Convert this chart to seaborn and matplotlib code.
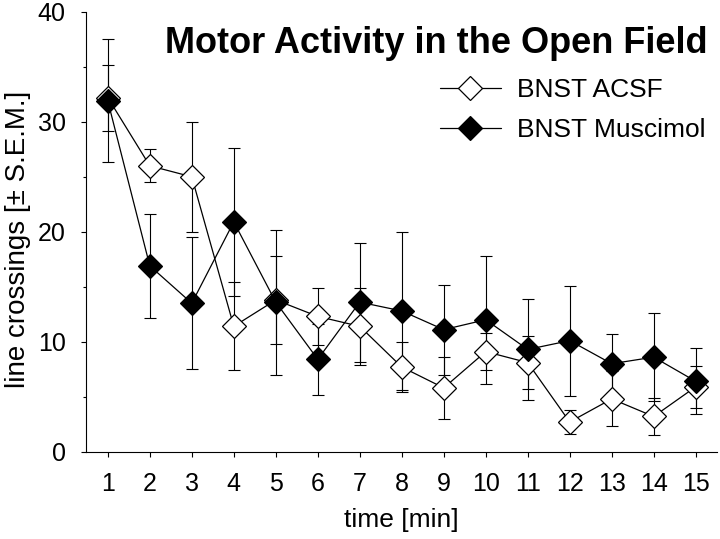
import pandas as pd
import matplotlib.pyplot as plt
import seaborn as sns
from matplotlib.ticker import MultipleLocator

# Line crossings per minute in the open field (mean +/- SEM)
minutes = list(range(1, 16))
acsf_mean = [32.2, 26.0, 25.0, 11.4, 13.8, 12.3, 11.4, 7.7, 5.8, 9.1, 8.1, 2.7, 4.8, 3.2, 5.9]
acsf_sem = [3.0, 1.5, 5.0, 4.0, 4.0, 2.6, 3.5, 2.3, 2.8, 1.7, 2.4, 1.05, 2.5, 1.7, 1.9]
musc_mean = [31.9, 16.9, 13.5, 20.9, 13.6, 8.4, 13.6, 12.8, 11.1, 12.0, 9.3, 10.1, 8.0, 8.6, 6.4]
musc_sem = [5.6, 4.7, 6.0, 6.7, 6.6, 3.2, 5.4, 7.2, 4.1, 5.8, 4.6, 5.0, 2.7, 4.0, 3.0]

df = pd.DataFrame({
    'time': minutes * 2,
    'crossings': acsf_mean + musc_mean,
    'sem': acsf_sem + musc_sem,
    'group': ['BNST ACSF'] * 15 + ['BNST Muscimol'] * 15,
})

sns.set_style("ticks")
plt.rcParams['font.family'] = ['Liberation Sans', 'DejaVu Sans']
plt.rcParams.update({'text.color': 'black', 'axes.labelcolor': 'black',
                     'xtick.color': 'black', 'ytick.color': 'black'})

fig = plt.figure(figsize=(7.2, 5.39), dpi=100)
ax = fig.add_axes([0.1194, 0.162, 0.876, 0.816])

fills = {'BNST ACSF': 'white', 'BNST Muscimol': 'black'}
for i, (name, sub) in enumerate(df.groupby('group', sort=False)):
    ax.errorbar(sub['time'], sub['crossings'], yerr=sub['sem'], fmt='none',
                ecolor='black', elinewidth=0.8, capsize=4, capthick=0.8, zorder=1)
    sns.lineplot(data=sub, x='time', y='crossings', ax=ax, color='black',
                 linewidth=0.9, marker='D', markersize=12.5,
                 markerfacecolor=fills[name], markeredgecolor='black',
                 markeredgewidth=0.9, label=name, zorder=3 + i)

ax.set_xlim(0.48, 15.5)
ax.set_ylim(0, 40)
ax.set_xticks(minutes)
ax.yaxis.set_major_locator(MultipleLocator(10))
ax.yaxis.set_minor_locator(MultipleLocator(5))
ax.tick_params(axis='both', which='major', labelsize=18, length=3.6, width=0.8,
               pad=11, color='black', labelcolor='black')
ax.tick_params(axis='y', which='minor', length=2.4, width=0.8)
sns.despine(ax=ax)
for s in ['left', 'bottom']:
    ax.spines[s].set_linewidth(0.8)
    ax.spines[s].set_color('black')

ax.set_xlabel('time [min]', fontsize=19, va='center')
ax.xaxis.set_label_coords(0.5, -0.155)
ax.set_ylabel('line crossings [± S.E.M.]', fontsize=20, va='center')
ax.yaxis.set_label_coords(-0.107, 0.483)

fig.text(708 / 720, 1 - 53 / 539, 'Motor Activity in the Open Field',
         ha='right', va='baseline', fontsize=26, fontweight='bold')

ax.legend(loc='upper left', bbox_to_anchor=(440 / 720, 1 - 78 / 539),
          bbox_transform=fig.transFigure, frameon=False, fontsize=19,
          handlelength=2.3, handletextpad=0.6, labelspacing=0.6,
          borderpad=0, borderaxespad=0)

fig.savefig('out.png', dpi=100)
